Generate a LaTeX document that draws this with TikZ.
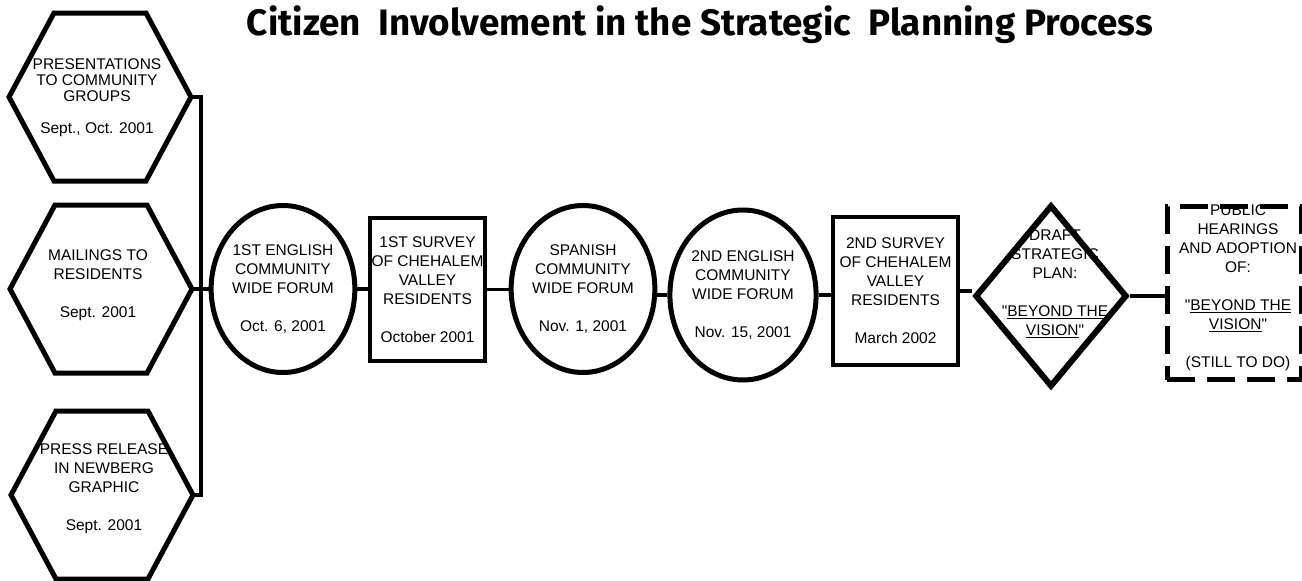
\documentclass[tikz,border=0pt]{standalone}
\usepackage{fontspec}
\usepackage{graphicx}
\setmainfont{Liberation Sans}
\newfontfamily\titlefont{Fira Sans}
\usetikzlibrary{shapes.geometric,calc}
\begin{document}
\begin{tikzpicture}[x=1pt,y=-1pt,
  shapeline/.style={draw=black,line width=5pt,line join=miter},
  conn/.style={draw=black,line width=3.5pt},
  txt/.style={font=\fontsize{15.5}{19}\selectfont,align=center,inner sep=0pt},
  ellbox/.style={shapeline,ellipse,inner sep=0pt,txt},
  rectbox/.style={draw=black,line width=4pt,rectangle,inner sep=0pt,txt},
  diabox/.style={shapeline,line width=6pt,diamond,inner sep=0pt},
  dashbox/.style={draw=black,line width=5pt,rectangle,inner sep=0pt,dash pattern=on 28pt off 12pt},
  hexagon/.pic={\draw[shapeline] (-91,0) -- (-46,-84) -- (46,-84) -- (91,0) -- (46,84) -- (-46,84) -- cycle;}
]
\useasboundingbox (0,0) rectangle (1302,581);

% title
\node[anchor=base,inner sep=0pt] (title) at (700,35) {\resizebox{906pt}{!}{\titlefont\bfseries Citizen\ \ Involvement in the Strategic\ \ Planning Process}};

% hexagons
\pic at (100,97) {hexagon};
\pic at (101,289) {hexagon};
\pic at (102,495) {hexagon};
\node[txt,font=\fontsize{15.5}{16}\selectfont] (h1) at (97,98) {PRESENTATIONS\\TO COMMUNITY\\GROUPS\\[16pt]Sept., Oct. 2001};
\node[txt] (h2) at (98,285) {MAILINGS TO\\RESIDENTS\\[19pt]Sept. 2001};
\node[txt] (h3) at (104,489) {PRESS RELEASE\\IN NEWBERG\\GRAPHIC\\[19pt]Sept. 2001};
\coordinate (h1e) at (191,97);
\coordinate (h2e) at (192,289);
\coordinate (h3e) at (193,495);
\coordinate (busT) at (201,97);
\coordinate (busB) at (201,495);

% main chain
\node[ellbox,minimum width=142pt,minimum height=167pt] (c1) at (283,289) {1ST ENGLISH\\COMMUNITY\\WIDE FORUM\\[19pt]Oct. 6, 2001};
\node[rectbox,minimum width=115pt,minimum height=143pt] (r1) at (427.5,289.5) {1ST SURVEY\\OF CHEHALEM\\VALLEY\\RESIDENTS\\[19pt]October 2001};
\node[ellbox,minimum width=135pt,minimum height=167pt] (c2) at (583,289) {SPANISH\\COMMUNITY\\WIDE FORUM\\[19pt]Nov. 1, 2001};
\node[ellbox,minimum width=145pt,minimum height=170pt] (c3) at (743,295) {2ND ENGLISH\\COMMUNITY\\WIDE FORUM\\[19pt]Nov. 15, 2001};
\node[rectbox,minimum width=125pt,minimum height=148pt] (r2) at (895.5,291) {2ND SURVEY\\OF CHEHALEM\\VALLEY\\RESIDENTS\\[19pt]March 2002};
\node[diabox,minimum width=152pt,minimum height=182pt] (d) at (1051,296) {};
\node[txt] (dt) at (1055,284) {DRAFT\\STRATEGIC\\PLAN:\\[19pt]\textquotedbl\underline{BEYOND THE}\\\underline{VISION}\textquotedbl};
\node[dashbox,minimum width=134pt,minimum height=173pt] (pub) at (1234,293) {};
\node[txt] (pubt) at (1238,288) {PUBLIC\\HEARINGS\\AND ADOPTION\\OF:\\[19pt]\textquotedbl\underline{BEYOND THE}\\\underline{VISION}\textquotedbl\\[19pt](STILL TO DO)};

% connectors
\draw[conn,line join=miter] (h1e) -- (busT) -- (busB) -- (h3e);
\draw[conn] (h2e) -- (c1.west);
\draw[conn] (c1.east) -- (c1.east -| r1.west);
\draw[conn] (r1.east) -- (r1.east -| c2.west);
\draw[conn] (c3.west -| c2.east) -- (c3.west);
\draw[conn] (c3.east) -- (c3.east -| r2.west);
\draw[conn] (r2.east) -- (r2.east -| d.west);
\draw[conn] (d.east) -- (d.east -| pub.west);
\end{tikzpicture}
\end{document}
